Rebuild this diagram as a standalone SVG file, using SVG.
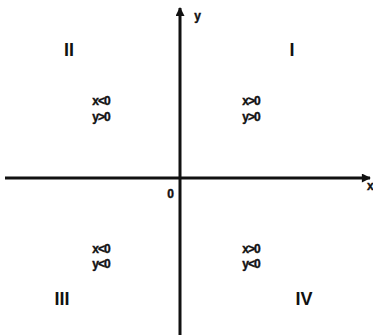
<svg xmlns="http://www.w3.org/2000/svg" width="373" height="335" viewBox="0 0 373 335">
<style>
.ax{stroke:#111;stroke-width:3;fill:none}
.q{font-family:"Liberation Sans",Arial,sans-serif;font-weight:bold;font-size:18px;fill:#111;text-anchor:middle}
.c{font-family:"Liberation Sans",Arial,sans-serif;font-weight:bold;font-size:12px;fill:#111;text-anchor:middle;letter-spacing:-1px;stroke:#111;stroke-width:0.4}
</style>
<defs>
<marker id="ah" viewBox="0 0 10 10" refX="9" refY="5" markerWidth="4" markerHeight="3" orient="auto" markerUnits="strokeWidth">
<path d="M0,0 L10,5 L0,10 z" fill="#111"/>
</marker>
</defs>
<rect width="373" height="335" fill="#fff"/>
<g id="axes">
<line class="ax" x1="5" y1="178" x2="370" y2="178" marker-end="url(#ah)"/>
<line class="ax" x1="180" y1="335" x2="180" y2="8" marker-end="url(#ah)"/>
</g>
<g id="labels">
<text class="c" x="367" y="190" style="text-anchor:start">x</text>
<text class="c" x="197" y="20">y</text>
<text class="c" x="170" y="198">0</text>
</g>
<g id="q1"><text class="q" x="292" y="56">I</text><text class="c" x="251" y="105">x&gt;0</text><text class="c" x="251" y="121">y&gt;0</text></g>
<g id="q2"><text class="q" x="69" y="56">II</text><text class="c" x="101" y="105">x&lt;0</text><text class="c" x="101" y="121">y&gt;0</text></g>
<g id="q3"><text class="q" x="62" y="305">III</text><text class="c" x="101" y="253">x&lt;0</text><text class="c" x="101" y="268">y&lt;0</text></g>
<g id="q4"><text class="q" x="304" y="305">IV</text><text class="c" x="251" y="253">x&gt;0</text><text class="c" x="251" y="268">y&lt;0</text></g>
</svg>
